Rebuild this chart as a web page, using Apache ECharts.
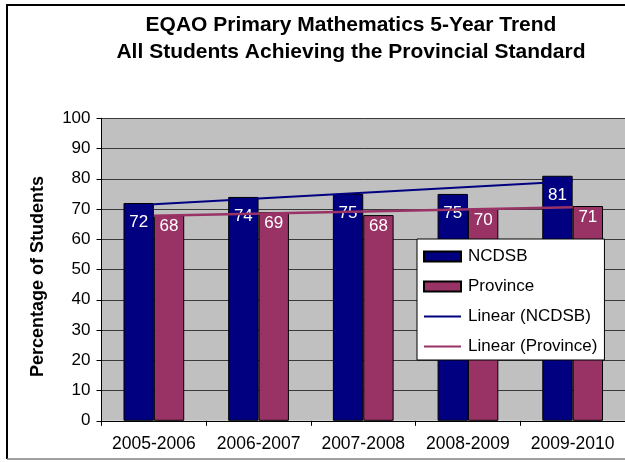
<!DOCTYPE html>
<html><head><meta charset="utf-8">
<script src="https://cdn.jsdelivr.net/npm/echarts@6/dist/echarts.min.js"></script>
<style>html,body{margin:0;padding:0;background:#fff}#c{width:625px;height:462px}</style>
</head><body><div id="c"></div>
<script>
const categories = ['2005-2006', '2006-2007', '2007-2008', '2008-2009', '2009-2010'];
const ncdsb = [72, 74, 75, 75, 81];
const province = [68, 69, 68, 70, 71];
// Trend line endpoints (first and last category)
const trendNcdsb = [71.6, 79.2];
const trendProvince = [67.8, 70.6];
const yMin = 0, yMax = 100, yStep = 10;

const FONT = 'Liberation Sans';
const NAVY = '#000080';
const MAROON = '#993366';
const LINE_ICON = 'path://M0,0 M0,4 L37,4 L37,6 L0,6 Z M37,10';

const chart = echarts.init(document.getElementById('c'), null, {renderer: 'canvas'});
chart.setOption({
  animation: false,
  backgroundColor: '#fff',
  textStyle: {fontFamily: FONT, color: '#000'},
  title: {
    text: 'EQAO Primary Mathematics 5-Year Trend\nAll Students Achieving the Provincial Standard',
    left: 346, top: 7, textAlign: 'center',
    textStyle: {fontFamily: FONT, fontSize: 21, fontWeight: 'bold', color: '#000', lineHeight: 27}
  },
  grid: {left: 101.5, top: 118.3, width: 528, height: 302.5, show: true, backgroundColor: '#c0c0c0', borderWidth: 0, containLabel: false},
  legend: {
    orient: 'vertical', left: 417, top: 239,
    backgroundColor: '#fff', borderColor: '#000', borderWidth: 1,
    padding: [9, 7, 5, 6], itemGap: 13, itemWidth: 37, itemHeight: 10,
    textStyle: {fontFamily: FONT, fontSize: 17, color: '#000', padding: [0, 0, 0, 2]},
    data: [
      {name: 'NCDSB', icon: 'rect'},
      {name: 'Province', icon: 'rect'},
      {name: 'Linear (NCDSB)', icon: LINE_ICON, itemStyle: {color: NAVY, borderWidth: 0}},
      {name: 'Linear (Province)', icon: LINE_ICON, itemStyle: {color: MAROON, borderWidth: 0}}
    ]
  },
  xAxis: {
    type: 'category', data: categories, boundaryGap: true,
    axisLine: {lineStyle: {color: '#000', width: 1}},
    axisTick: {show: true, length: 5, lineStyle: {color: '#000'}},
    axisLabel: {interval: 0, fontFamily: FONT, fontSize: 17.5, color: '#000', margin: 14},
    splitLine: {show: false}
  },
  yAxis: {
    type: 'value', min: yMin, max: yMax, interval: yStep,
    name: 'Percentage of Students', nameLocation: 'middle', nameGap: 54, nameRotate: 90,
    nameTextStyle: {fontFamily: FONT, fontSize: 18, fontWeight: 'bold', color: '#000', padding: [0, 14, 0, 0]},
    axisLine: {show: true, lineStyle: {color: '#000', width: 1}},
    axisTick: {show: true, length: 5, lineStyle: {color: '#000'}},
    axisLabel: {fontFamily: FONT, fontSize: 17, color: '#000', margin: 11},
    splitLine: {show: true, lineStyle: {color: '#3a3a3a', width: 1}}
  },
  series: [
    {
      name: 'NCDSB', type: 'bar', data: ncdsb, barGap: '0%', barCategoryGap: '42%',
      itemStyle: {color: NAVY, borderColor: '#000', borderWidth: 1},
      label: {show: true, position: 'insideTop', distance: 11, color: '#fff', fontFamily: FONT, fontSize: 17}
    },
    {
      name: 'Province', type: 'bar', data: province,
      itemStyle: {color: MAROON, borderColor: '#000', borderWidth: 1},
      label: {show: true, position: 'insideTop', distance: 3, color: '#fff', fontFamily: FONT, fontSize: 17}
    },
    {
      name: 'Linear (NCDSB)', type: 'line', symbol: 'none', showSymbol: false, z: 5,
      data: [[0, trendNcdsb[0]], [categories.length - 1, trendNcdsb[1]]],
      lineStyle: {color: NAVY, width: 2}, itemStyle: {color: NAVY}
    },
    {
      name: 'Linear (Province)', type: 'line', symbol: 'none', showSymbol: false, z: 5,
      data: [[0, trendProvince[0]], [categories.length - 1, trendProvince[1]]],
      lineStyle: {color: MAROON, width: 2.5}, itemStyle: {color: MAROON}
    }
  ],
  graphic: [
    {type: 'line', shape: {x1: 7, y1: 5, x2: 7, y2: 459}, style: {stroke: '#000', lineWidth: 2}, z: 100},
    {type: 'line', shape: {x1: 6, y1: 5, x2: 625, y2: 5}, style: {stroke: '#000', lineWidth: 2}, z: 100},
    {type: 'line', shape: {x1: 7, y1: 459, x2: 625, y2: 459}, style: {stroke: '#808080', lineWidth: 1.5}, z: 100}
  ]
});
</script></body></html>
